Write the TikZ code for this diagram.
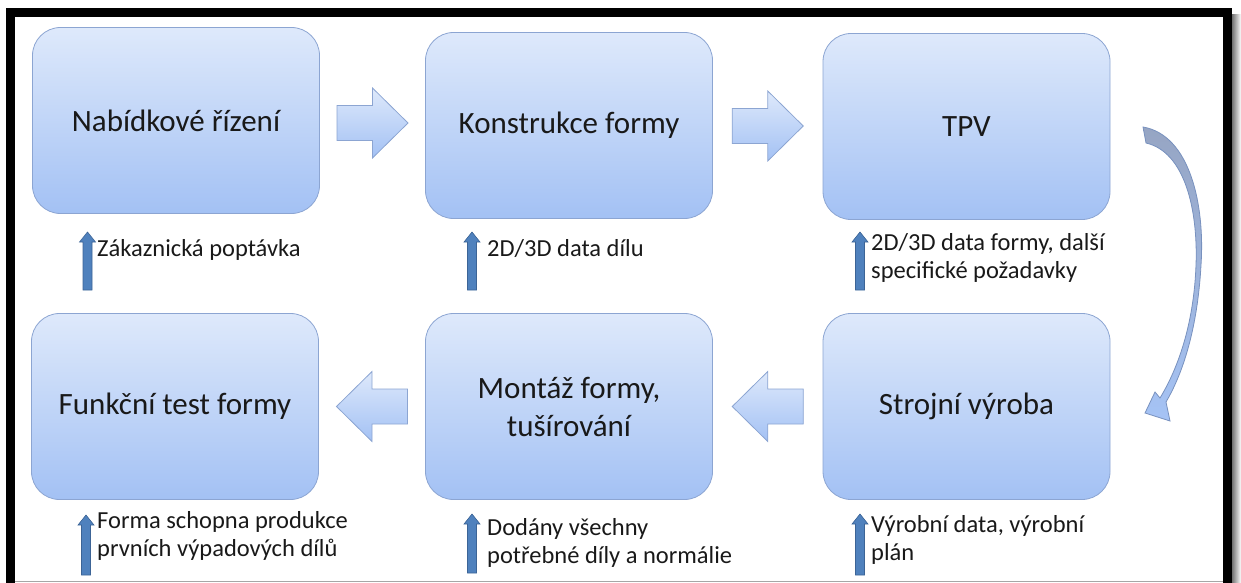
\documentclass[tikz,border=0pt]{standalone}
\usepackage{fontspec}
\setmainfont{Carlito}
\usetikzlibrary{calc}
\definecolor{boxtop}{RGB}{222,233,251}
\definecolor{boxbot}{RGB}{163,193,244}
\definecolor{boxline}{RGB}{140,165,210}
\definecolor{arrblue}{RGB}{79,129,189}
\definecolor{arrline}{RGB}{60,100,150}
\definecolor{curvtop}{RGB}{150,165,195}
\definecolor{curvbot}{RGB}{165,195,245}
\definecolor{curvline}{RGB}{120,145,190}
\newcommand\myRArrow[1]{\path[barrow] (#1) ++(-35.5,-17.5) -- ++(35.5,0) -- ++(0,-17.5) -- ++(35.5,35) -- ++(-35.5,35) -- ++(0,-17.5) -- ++(-35.5,0) -- cycle;}
\newcommand\myLArrow[1]{\path[barrow] (#1) ++(35.5,-17.5) -- ++(-35.5,0) -- ++(0,-17.5) -- ++(-35.5,35) -- ++(35.5,35) -- ++(0,-17.5) -- ++(35.5,0) -- cycle;}
\newcommand\myUpArrow[3]{\path[uparr] (#1-4.5,#3) -- (#1-4.5,#2+10) -- (#1-8,#2+10) -- (#1,#2) -- (#1+8,#2+10) -- (#1+4.5,#2+10) -- (#1+4.5,#3) -- cycle;}
\begin{document}
\begin{tikzpicture}[x=1pt,y=-1pt,
  stage/.style={draw=boxline, line width=0.8, rounded corners=28, top color=boxtop, bottom color=boxbot,
    minimum width=287, minimum height=186, inner sep=0, font=\fontsize{31}{38}\selectfont, align=center, text=black!90},
  barrow/.style={draw=boxline, line width=0.8, top color=boxtop, bottom color=boxbot, line join=miter},
  uparr/.style={fill=arrblue, draw=arrline, line width=0.6, line join=miter},
  lab/.style={font=\fontsize{24.5}{28}\selectfont, align=left, inner sep=0, anchor=base west, text=black!90}]
\useasboundingbox (0,0) rectangle (1241,583);
% frame
\shade[left color=black!55, right color=white] (1232,15) rectangle (1241,583);
\draw[line width=9, line join=miter] (10.5,583) -- (10.5,12.5) -- (1227.5,12.5) -- (1227.5,583);
\draw[gray!70, line width=1.2] (15,581.5) -- (1223,581.5);
% stages
\node[stage] (b1) at (176,120.5) {Nabídkové řízení};
\node[stage] (b2) at (569,125.5) {Konstrukce formy};
\node[stage] (b3) at (966.5,126.5) {TPV};
\node[stage] (b4) at (175,406.5) {Funkční test formy};
\node[stage] (b5) at (569,406.5) {Montáž formy,\\tušírování};
\node[stage] (b6) at (966.5,406.5) {Strojní výroba};
% block arrows
\coordinate (m12) at ($(b1.east)!0.5!(b2.west)$);
\coordinate (m23) at ($(b2.east)!0.5!(b3.west)$);
\coordinate (m45) at ($(b4.east)!0.5!(b5.west)$);
\coordinate (m56) at ($(b5.east)!0.5!(b6.west)$);
\myRArrow{m12}
\myRArrow{m23}
\myLArrow{m45}
\myLArrow{m56}
% curved arrow from TPV to Strojni vyroba
\path[draw=curvline, line width=0.8, top color=curvtop, bottom color=curvbot, line join=miter]
  (1143,127) .. controls (1190,135) and (1205,205) .. (1201,265)
  .. controls (1198,320) and (1186,368) .. (1166,402)
  -- (1170,421) -- (1145,413) -- (1155,392) -- (1160,398)
  .. controls (1180,365) and (1194,320) .. (1196,265)
  .. controls (1198,210) and (1185,152) .. (1146,143) -- cycle;
% inputs
\myUpArrow{87.5}{232}{290}
\myUpArrow{472}{232}{290}
\myUpArrow{860}{232}{290}
\myUpArrow{86}{515}{575}
\myUpArrow{472}{514}{573}
\myUpArrow{860}{514}{575}
\node[lab] (l1) at (97,256) {Zákaznická poptávka};
\node[lab] (l2) at (487,256) {2D/3D data dílu};
\node[lab] (l3) at (871,278) {2D/3D data formy, další\\specifické požadavky};
\node[lab] (l4) at (97,556) {Forma schopna produkce\\prvních výpadových dílů};
\node[lab] (l5) at (487,563) {Dodány všechny\\potřebné díly a normálie};
\node[lab] (l6) at (871,560) {Výrobní data, výrobní\\plán};
\end{tikzpicture}
\end{document}
